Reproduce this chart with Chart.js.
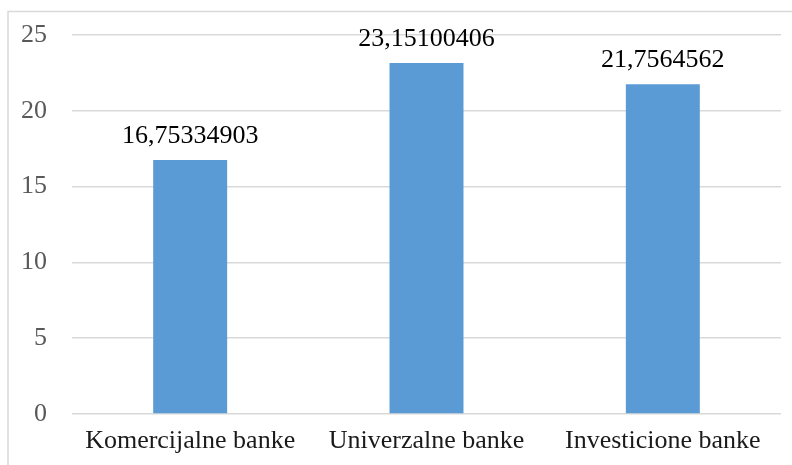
<!DOCTYPE html>
<html>
<head>
<meta charset="utf-8">
<script src="https://cdn.jsdelivr.net/npm/chart.js@4/dist/chart.umd.min.js"></script>
<style>
  html, body { margin: 0; padding: 0; background: #fff; }
  #wrap { width: 792px; height: 465px; position: relative; }
</style>
</head>
<body>
<div id="wrap"><canvas id="c" width="792" height="465"></canvas></div>
<script>
const categories = ['Komercijalne banke', 'Univerzalne banke', 'Investicione banke'];
const values = [16.75334903, 23.15100406, 21.7564562];
const yTicks = [0, 5, 10, 15, 20, 25];

const SERIF = '"Liberation Serif", "Times New Roman", serif';

// Light grey frame around the chart area (open to the right and bottom)
const framePlugin = {
  id: 'frame',
  beforeDraw(chart) {
    const ctx = chart.ctx;
    ctx.save();
    ctx.strokeStyle = '#d9d9d9';
    ctx.lineWidth = 1.5;
    ctx.strokeRect(8, 11.5, 800, 470);
    ctx.restore();
  }
};

// Value labels above each bar, decimal comma
const valueLabels = {
  id: 'valueLabels',
  afterDatasetsDraw(chart) {
    const ctx = chart.ctx;
    const meta = chart.getDatasetMeta(0);
    ctx.save();
    ctx.font = '26px ' + SERIF;
    ctx.fillStyle = '#000';
    ctx.textAlign = 'center';
    ctx.textBaseline = 'alphabetic';
    meta.data.forEach((bar, i) => {
      const txt = String(values[i]).replace('.', ',');
      ctx.fillText(txt, bar.x, bar.y - 17);
    });
    ctx.restore();
  }
};

new Chart(document.getElementById('c'), {
  type: 'bar',
  data: {
    labels: categories,
    datasets: [{
      data: values,
      backgroundColor: '#5b9bd5',
      borderWidth: 0,
      barPercentage: 1,
      categoryPercentage: 0.313
    }]
  },
  options: {
    responsive: false,
    animation: false,
    layout: { padding: { top: 35, right: 11, left: 0, bottom: 0 } },
    plugins: { legend: { display: false }, tooltip: { enabled: false } },
    scales: {
      x: {
        grid: { display: false, drawTicks: false },
        border: { display: false },
        ticks: { color: '#1a1a1a', font: { family: SERIF, size: 26 }, padding: 12, maxRotation: 0, autoSkip: false },
        afterFit(s) { s.height = 51; }
      },
      y: {
        min: 0, max: 25,
        afterBuildTicks(s) { s.ticks = yTicks.map(v => ({ value: v })); },
        grid: { color: '#d9d9d9', lineWidth: 1.5, drawTicks: false },
        border: { display: false },
        ticks: { color: '#595959', font: { family: SERIF, size: 26 }, padding: 25 },
        afterFit(s) { s.width = 72; s.paddingTop = 0; s.paddingBottom = 0; }
      }
    }
  },
  plugins: [framePlugin, valueLabels]
});
</script>
</body>
</html>
